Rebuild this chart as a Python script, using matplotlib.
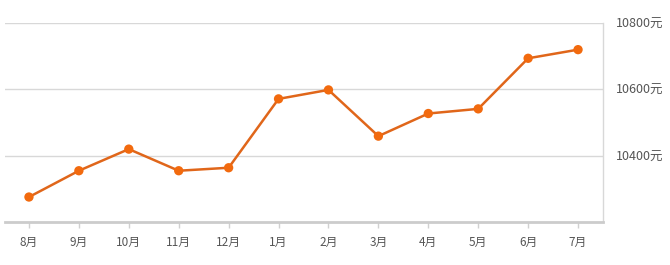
import matplotlib
matplotlib.use("Agg")
import matplotlib.pyplot as plt

plt.rcParams['font.family'] = ['Noto Sans CJK SC', 'DejaVu Sans']

months = ["8月", "9月", "10月", "11月", "12月", "1月", "2月", "3月", "4月", "5月", "6月", "7月"]
prices = [10276, 10355, 10420, 10355, 10364, 10571, 10598, 10459, 10527, 10541, 10693, 10719]
yticks = [10400, 10600, 10800]
ytick_labels = ["10400元", "10600元", "10800元"]

fig = plt.figure(figsize=(6.7, 2.65), dpi=100)
ax = fig.add_axes([5/670, 1-222.3/265, (603-5)/670, (222.3-22.7)/265])

x = list(range(len(months)))
ax.plot(x, prices, color='#e0661a', lw=1.8, zorder=3, solid_joinstyle='round')
ax.scatter(x, prices, s=45, color='#f26a0e', zorder=4, edgecolors='none')

ax.set_xlim(-0.48, 11.5)
ax.set_ylim(10200, 10800)
ax.set_xticks(x)
ax.set_xticklabels(months, fontsize=8.5, color='#555555')
ax.set_yticks(yticks)
ax.set_yticklabels(ytick_labels, fontsize=9, color='#555555')
ax.yaxis.tick_right()
ax.tick_params(axis='y', length=0, pad=9)
ax.tick_params(axis='x', length=4, color='#d0d0d0', width=1, pad=6)

ax.grid(axis='y', color='#d8d8d8', lw=1)
ax.set_axisbelow(True)
for s in ['top', 'left']:
    ax.spines[s].set_visible(False)
ax.spines['right'].set_color('#d8d8d8')
ax.spines['right'].set_linewidth(1)
ax.spines['bottom'].set_color('#cccccc')
ax.spines['bottom'].set_linewidth(2)

fig.savefig('out.png', dpi=100)
